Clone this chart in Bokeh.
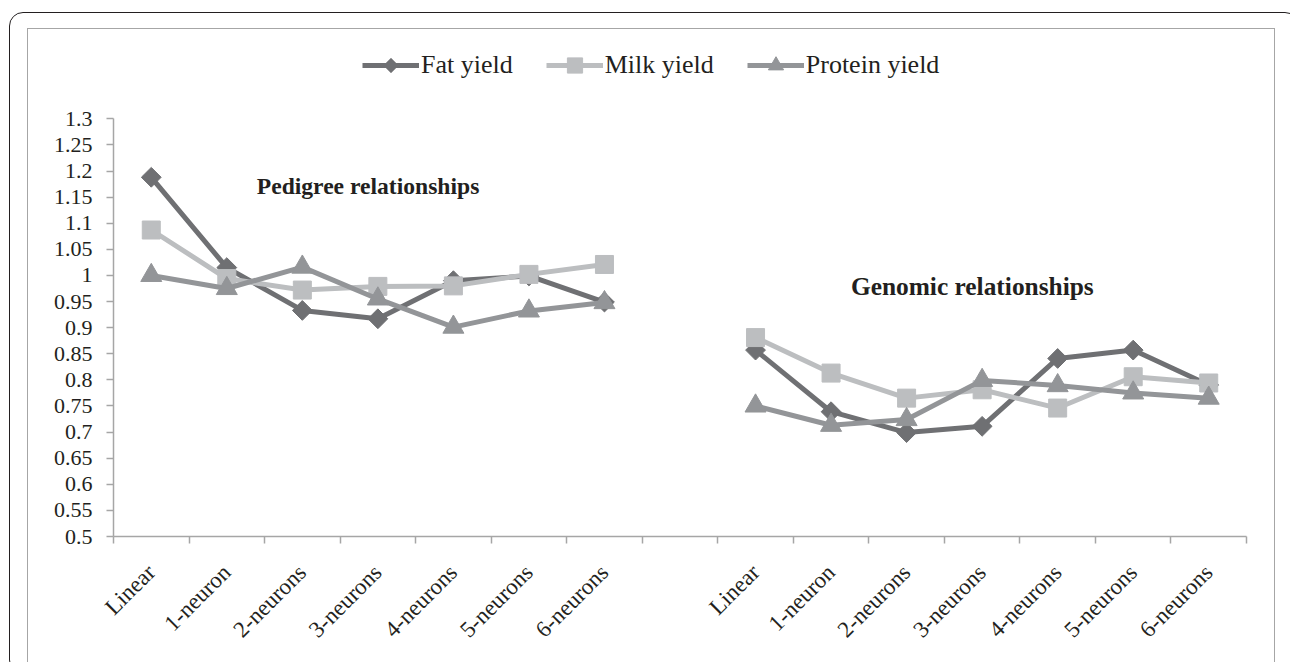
import math
import numpy as np
from bokeh.plotting import figure
from bokeh.layouts import column
from bokeh.models import (ColumnDataSource, Range1d, FixedTicker, NumeralTickFormatter,
                          Legend, LegendItem, Label, PolyAnnotation)
from bokeh.embed import file_html
from bokeh.resources import INLINE

# ---------------- data ----------------
categories = ["Linear", "1-neuron", "2-neurons", "3-neurons", "4-neurons", "5-neurons", "6-neurons"]
group_titles = ["Pedigree relationships", "Genomic relationships"]

fat_pedigree = [1.188, 1.015, 0.933, 0.917, 0.990, 0.999, 0.949]
fat_genomic = [0.857, 0.739, 0.699, 0.711, 0.841, 0.857, 0.790]

milk_pedigree = [1.087, 0.994, 0.972, 0.979, 0.980, 1.002, 1.021]
milk_genomic = [0.881, 0.813, 0.765, 0.781, 0.746, 0.806, 0.794]

protein_pedigree = [1.000, 0.975, 1.016, 0.955, 0.901, 0.932, 0.948]
protein_genomic = [0.750, 0.713, 0.724, 0.799, 0.789, 0.775, 0.765]

series_names = ["Fat yield", "Milk yield", "Protein yield"]

y_ticks = [0.5, 0.55, 0.6, 0.65, 0.7, 0.75, 0.8, 0.85, 0.9, 0.95, 1.0,
           1.05, 1.1, 1.15, 1.2, 1.25, 1.3]
y_axis_min, y_axis_max = 0.5, 1.3

# caption placement (data units) and sizes for the two group captions
group_title_x = [3.87, 11.87]
group_title_y = [1.172, 0.980]
group_title_size = ["23.6px", "25.4px"]

# ---------------- layout helpers ----------------
n = len(categories)
slots = 2 * n + 1                       # 7 + empty slot + 7
x_ped = [i + 1 for i in range(n)]
x_gen = [n + 2 + i for i in range(n)]
x_all = x_ped + [n + 1] + x_gen


def combine(a, b):
    return list(a) + [np.nan] + list(b)


TXT = "#231f20"
AX = "#a6a6a6"
FONT = "Liberation Serif"

# canvas geometry (px)
CANVAS_W, CANVAS_H = 1248, 650
B_LEFT, B_RIGHT, B_TOP, B_BOTTOM = 85, 30, 10, 143
FRAME_H = CANVAS_H - B_TOP - B_BOTTOM        # 497
AXIS_SPAN_PX = 417.7                         # px between 0.5 and 1.3
# the frame extends above the 1.3 tick so the legend can live inside it
y_top = y_axis_min + (y_axis_max - y_axis_min) * FRAME_H / AXIS_SPAN_PX

p = figure(width=CANVAS_W, height=CANVAS_H,
           x_range=Range1d(0.5, slots + 0.5), y_range=Range1d(y_axis_min, y_top),
           output_backend="svg", toolbar_location=None,
           min_border_left=B_LEFT, min_border_right=B_RIGHT,
           min_border_top=B_TOP, min_border_bottom=B_BOTTOM,
           background_fill_color="white", border_fill_color="white",
           outline_line_color=None)
p.grid.visible = False

# x axis: labels at category centres, tick marks at category boundaries
label_overrides = {}
for xs in (x_ped, x_gen):
    for xv, c in zip(xs, categories):
        label_overrides[xv] = c
p.xaxis.ticker = FixedTicker(ticks=x_ped + x_gen,
                             minor_ticks=[i + 0.5 for i in range(slots + 1)])
p.xaxis.major_label_overrides = label_overrides
p.xaxis.major_label_orientation = math.pi / 4
p.xaxis.major_tick_line_color = None
p.xaxis.major_tick_in = 0
p.xaxis.major_tick_out = 0
p.xaxis.minor_tick_in = 0
p.xaxis.minor_tick_out = 7
p.xaxis.minor_tick_line_color = AX
p.xaxis.minor_tick_line_width = 1.5
p.xaxis.axis_line_color = AX
p.xaxis.axis_line_width = 1.5
p.xaxis.major_label_text_font = FONT
p.xaxis.major_label_text_font_size = "23px"
p.xaxis.major_label_text_color = TXT
p.xaxis.major_label_standoff = 25

# y axis (line and ticks only between 0.5 and 1.3)
p.yaxis.ticker = FixedTicker(ticks=y_ticks)
p.yaxis.bounds = (y_axis_min, y_axis_max)
p.yaxis.formatter = NumeralTickFormatter(format="0.[00]")
p.yaxis.major_tick_in = 0
p.yaxis.major_tick_out = 7
p.yaxis.minor_tick_line_color = None
p.yaxis.major_tick_line_color = AX
p.yaxis.major_tick_line_width = 1.5
p.yaxis.axis_line_color = AX
p.yaxis.axis_line_width = 1.5
p.yaxis.major_label_text_font = FONT
p.yaxis.major_label_text_font_size = "22px"
p.yaxis.major_label_text_color = TXT
p.yaxis.major_label_standoff = 14

styles = [
    ("#6f7073", "square", 14, math.pi / 4),
    ("#bcbec0", "square", 18, 0.0),
    ("#939598", "triangle", 21, 0.0),
]
values = [
    combine(fat_pedigree, fat_genomic),
    combine(milk_pedigree, milk_genomic),
    combine(protein_pedigree, protein_genomic),
]

items = []
for k, (name, vals, (color, marker, size, ang)) in enumerate(zip(series_names, values, styles)):
    src = ColumnDataSource(dict(x=x_all, y=vals))
    ln = p.line("x", "y", source=src, line_color=color, line_width=5, line_join="round")
    sc = p.scatter("x", "y", source=src, marker=marker, size=size, angle=ang,
                   fill_color=color, line_color=color, line_width=1)
    # the rotated-square (diamond) key symbol is drawn separately below
    rends = [ln] if ang else [ln, sc]
    items.append(LegendItem(label=name, renderers=rends))

LEG_X, LEG_Y, GLYPH_W, GLYPH_H = 249, 452, 57, 38
legend = Legend(items=items, orientation="horizontal", location=(LEG_X, LEG_Y),
                glyph_width=GLYPH_W, glyph_height=GLYPH_H, label_standoff=2, spacing=33,
                padding=0, margin=0, border_line_color=None, background_fill_alpha=0,
                label_text_font=FONT, label_text_font_size="26px",
                label_text_color=TXT, label_height=GLYPH_H)
p.add_layout(legend, "center")

# diamond key symbol for "Fat yield", centred on its legend glyph
cx, cy, r = LEG_X + GLYPH_W / 2, LEG_Y + GLYPH_H / 2, 7.5
p.add_layout(PolyAnnotation(xs=[cx - r, cx, cx + r, cx], ys=[cy, cy + r, cy, cy - r],
                            xs_units="screen", ys_units="screen",
                            fill_color=styles[0][0], fill_alpha=1.0,
                            line_color=styles[0][0], line_width=1))

for t, gx, gy, fs in zip(group_titles, group_title_x, group_title_y, group_title_size):
    p.add_layout(Label(x=gx, y=gy, text=t, text_align="center", text_baseline="middle",
                       text_font=FONT, text_font_style="bold", text_font_size=fs,
                       text_color=TXT))

# frames: grey inner frame on the figure, rounded black outer frame, clipped page
p.margin = (15, 0, 0, 17)
p.styles = {"border": "1.5px solid #a6a6a6"}
outer = column(p, width=1290, height=700, margin=(12, 0, 0, 9),
               styles={"border": "1.3px solid #231f20", "border-radius": "14px"})
page = column(outer, width=1290, height=662, styles={"overflow": "hidden"})

open("out.html", "w").write(file_html(page, INLINE))
